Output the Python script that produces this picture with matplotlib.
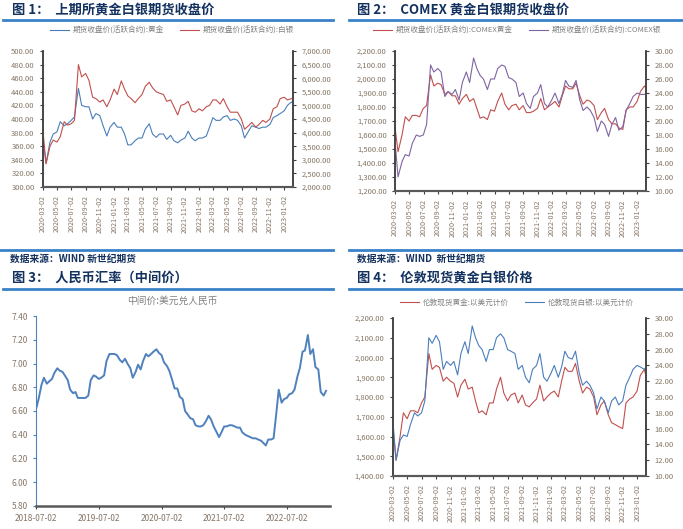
import pandas as pd
import numpy as np
import matplotlib
matplotlib.use('Agg')
import matplotlib.pyplot as plt
import matplotlib.dates as mdates
from matplotlib.ticker import FuncFormatter, MultipleLocator

plt.rcParams['font.family'] = ['Noto Sans CJK SC', 'DejaVu Sans']

W, H = 683, 529

# semi-monthly sample dates
metal_dates = pd.date_range('2020-03-01', periods=72, freq='SMS')
cny_dates = pd.date_range('2018-07-01', periods=112, freq='SMS')

# fig 1: SHFE gold (yuan/g) and silver (yuan/kg)
shfe_gold = [372, 335, 366, 378, 381, 396, 390, 393, 398, 403, 445, 420, 418, 418, 400, 408, 405, 390, 375, 388,
             395, 388, 388, 378, 362, 362, 368, 372, 372, 385, 393, 378, 373, 378, 378, 370, 376, 368, 365, 369, 372, 382, 372, 368,
             372, 372, 375, 388, 402, 398, 398, 403, 405, 398, 400, 398, 390, 372, 382, 390, 388, 386, 388, 388, 392, 402, 405, 408,
             412, 420, 425, 422]
shfe_silver = [4150, 2850, 3500, 3725, 3650, 3850, 4400, 4275, 4325, 4450, 6500, 6050, 6175, 5925, 5300, 5250, 5125, 5200, 4950, 5200,
               5600, 5400, 5900, 5600, 5350, 5250, 5100, 5250, 5400, 5700, 5850, 5650, 5500, 5450, 5400, 5150, 5200, 4950, 4650, 5000, 5050, 5150, 4800, 4750,
               4875, 4800, 4950, 5000, 5200, 5200, 5050, 5250, 4950, 4750, 4750, 4750, 4500, 4125, 4250, 4375, 4200, 4300, 4450, 4375, 4500, 4875, 4950, 5250,
               5300, 5200, 5250, 5200]

# fig 2: COMEX gold and silver
comex_gold = [1670, 1480, 1600, 1730, 1700, 1740, 1740, 1730, 1790, 1810, 2030, 1950, 1970, 1960, 1890, 1910, 1880, 1880, 1820, 1860,
              1890, 1840, 1860, 1790, 1720, 1730, 1710, 1780, 1770, 1840, 1900, 1820, 1780, 1810, 1820, 1780, 1810, 1760, 1760, 1770, 1790, 1860, 1780, 1800,
              1820, 1840, 1800, 1880, 1950, 1930, 1930, 1970, 1880, 1820, 1850, 1840, 1810, 1710, 1760, 1790, 1710, 1680, 1680, 1650, 1640, 1780, 1800, 1800,
              1840, 1910, 1950, 1920]
comex_silver = [17.5, 12.0, 14.2, 15.2, 15.0, 16.8, 18.0, 17.8, 18.0, 19.5, 28.0, 27.0, 27.5, 27.0, 23.5, 24.2, 23.8, 24.5, 23.0, 25.5,
                27.0, 25.5, 29.0, 27.5, 26.5, 26.0, 24.5, 26.0, 26.0, 27.5, 28.0, 27.8, 26.2, 26.0, 25.5, 23.5, 24.0, 22.5, 21.8, 23.5, 24.0, 25.2, 22.5, 22.0,
                23.0, 24.0, 22.5, 23.8, 25.8, 25.0, 24.8, 25.8, 23.0, 21.5, 22.0, 21.5, 20.5, 18.5, 20.0, 19.5, 17.8, 19.5, 20.5, 18.7, 19.2, 21.5, 22.5, 23.5,
                24.0, 23.8, 23.8, 24.0]

# fig 3: USD/CNY central parity
usd_cny = [6.62, 6.70, 6.82, 6.88, 6.83, 6.85, 6.87, 6.92, 6.96, 6.94, 6.93, 6.90,
           6.86, 6.78, 6.75, 6.76, 6.71, 6.71, 6.71, 6.71, 6.73, 6.86, 6.90, 6.89, 6.87, 6.88, 6.90, 7.02, 7.08, 7.08, 7.08, 7.07, 7.03, 7.01, 7.04, 7.00,
           6.96, 6.88, 6.93, 6.99, 6.95, 7.02, 7.08, 7.06, 7.08, 7.10, 7.12, 7.09, 7.07, 7.01, 6.98, 6.94, 6.86, 6.79, 6.79, 6.72, 6.70, 6.60, 6.57, 6.54,
           6.53, 6.48, 6.47, 6.47, 6.48, 6.51, 6.56, 6.53, 6.47, 6.43, 6.38, 6.42, 6.47, 6.47, 6.48, 6.48, 6.47, 6.46, 6.46, 6.42, 6.40, 6.39, 6.38, 6.37,
           6.37, 6.36, 6.35, 6.33, 6.31, 6.36, 6.36, 6.37, 6.58, 6.78, 6.67, 6.70, 6.71, 6.74, 6.75, 6.78, 6.89, 6.96, 7.10, 7.11, 7.24, 7.08, 7.12, 6.97,
           6.95, 6.76, 6.73, 6.77]

# fig 4: London spot gold and silver (USD)
ldn_gold = [1650, 1480, 1600, 1720, 1690, 1730, 1730, 1720, 1770, 1800, 2020, 1940, 1960, 1950, 1880, 1900, 1880, 1870, 1800, 1860,
            1890, 1840, 1850, 1780, 1720, 1730, 1710, 1770, 1770, 1840, 1900, 1820, 1780, 1810, 1820, 1770, 1810, 1760, 1750, 1770, 1790, 1860, 1780, 1800,
            1820, 1830, 1800, 1880, 1950, 1930, 1930, 1970, 1880, 1820, 1850, 1840, 1800, 1710, 1760, 1780, 1710, 1670, 1660, 1650, 1640, 1770, 1790, 1800,
            1830, 1910, 1940, 1870]
ldn_silver = [17.2, 12.0, 14.5, 15.2, 15.0, 16.5, 18.0, 17.6, 18.0, 19.5, 27.5, 26.8, 27.8, 27.0, 23.5, 24.5, 24.0, 24.5, 22.8, 25.5,
              27.0, 25.5, 29.0, 27.5, 26.5, 26.0, 24.5, 26.0, 26.0, 27.5, 28.0, 27.5, 26.0, 25.8, 25.5, 23.5, 24.0, 22.5, 21.8, 23.5, 24.0, 25.5, 22.5, 22.0,
              23.0, 24.0, 22.5, 23.8, 25.8, 25.0, 24.8, 25.8, 23.0, 21.5, 22.0, 21.5, 20.5, 18.5, 20.0, 19.5, 18.0, 19.5, 20.0, 19.0, 19.5, 21.5, 22.5, 23.5,
              24.0, 23.8, 23.5, 24.0]

NAVY = '#14325f'
RULE = '#3a82c8'
BLUE = '#4a7ebb'
RED = '#c0504d'
PURPLE = '#8064a2'
TXT = '#857565'
AXC = '#404040'

fig = plt.figure(figsize=(W / 100, H / 100), dpi=100)


def px_axes(l, t, r, b):
    return fig.add_axes([l / W, 1 - b / H, (r - l) / W, (b - t) / H])


def ftext(x, y, s, **kw):
    fig.text(x / W, 1 - y / H, s, va='center', **kw)


def hrule(x0, x1, y):
    fig.add_artist(plt.Line2D([x0 / W, x1 / W], [1 - y / H, 1 - y / H], color=RULE, lw=2))


money = FuncFormatter(lambda v, p: '{:,.2f}'.format(v))

# header texts and rules
ftext(12, 10, '图 1：  上期所黄金白银期货收盘价', fontsize=9.5, fontweight='bold', color=NAVY)
ftext(357, 10, '图 2：  COMEX 黄金白银期货收盘价', fontsize=9.5, fontweight='bold', color=NAVY)
hrule(3, 333, 20)
hrule(349, 683, 20)
hrule(0, 333, 250)
hrule(349, 683, 250)
ftext(10, 259, '数据来源：WIND 新世纪期货', fontsize=7, fontweight='bold', color=NAVY)
ftext(357, 259, '数据来源：WIND  新世纪期货', fontsize=7, fontweight='bold', color=NAVY)
ftext(12, 278, '图 3：  人民币汇率（中间价）', fontsize=9.5, fontweight='bold', color=NAVY)
ftext(357, 278, '图 4：  伦敦现货黄金白银价格', fontsize=9.5, fontweight='bold', color=NAVY)
hrule(3, 333, 289)
hrule(349, 683, 289)


def dual_panel(box, d, y1, y2, c1, c2, lab1, lab2, lim1, step1, lim2, step2, leg_xy):
    ax = px_axes(*box)
    ax2 = ax.twinx()
    h1, = ax.plot(d, y1, color=c1, lw=0.8, label=lab1)
    h2, = ax2.plot(d, y2, color=c2, lw=0.8, label=lab2)
    ax.set_xlim(pd.Timestamp('2020-03-02'), pd.Timestamp('2023-02-08'))
    ax.set_ylim(*lim1)
    ax2.set_ylim(*lim2)
    ax.yaxis.set_major_locator(MultipleLocator(step1))
    ax2.yaxis.set_major_locator(MultipleLocator(step2))
    ax.yaxis.set_major_formatter(money)
    ax2.yaxis.set_major_formatter(money)
    ax.xaxis.set_major_locator(mdates.MonthLocator(bymonth=[1, 3, 5, 7, 9, 11], bymonthday=2))
    ax.xaxis.set_major_formatter(mdates.DateFormatter('%Y-%m-%d'))
    for a in (ax, ax2):
        a.spines['top'].set_visible(False)
        a.spines['left'].set_color(AXC)
        a.spines['right'].set_color(AXC)
        a.spines['bottom'].set_color('#595959')
        a.spines['left'].set_linewidth(1.1)
        a.spines['right'].set_linewidth(1.1)
        a.spines['bottom'].set_linewidth(1.5)
        a.tick_params(axis='y', labelsize=5.5, labelcolor=TXT, length=2.5, width=0.8, color=AXC)
    ax.tick_params(axis='x', labelsize=5.2, labelcolor=TXT, rotation=90, length=2.5, width=0.8, color=AXC)
    ax.legend([h1, h2], [lab1, lab2], loc='center', bbox_to_anchor=(leg_xy[0] / W, 1 - leg_xy[1] / H),
              bbox_transform=fig.transFigure, ncol=2, frameon=False, fontsize=5.5, labelcolor='#808080',
              handlelength=2.4, columnspacing=2.2, handletextpad=0.5)
    return ax, ax2


dual_panel((43, 51, 293, 187), metal_dates, shfe_gold, shfe_silver, BLUE, RED,
           '期货收盘价(活跃合约):黄金', '期货收盘价(活跃合约):白银',
           (300, 500), 20, (2000, 7000), 500, (172, 31))
dual_panel((395, 51, 646, 191), metal_dates, comex_gold, comex_silver, RED, PURPLE,
           '期货收盘价(活跃合约):COMEX黄金', '期货收盘价(活跃合约):COMEX银',
           (1200, 2200), 100, (10, 30), 2, (517, 31))
dual_panel((393, 318, 646, 476), metal_dates, ldn_gold, ldn_silver, RED, BLUE,
           '伦敦现货黄金:以美元计价', '伦敦现货白银:以美元计价',
           (1400, 2200), 100, (10, 30), 2, (517, 303))

# fig 3: USD/CNY
ax3 = px_axes(36, 316, 330, 506)
ax3.plot(cny_dates, usd_cny, color='#4f81bd', lw=1.4)
ax3.set_xlim(pd.Timestamp('2018-06-30'), pd.Timestamp('2023-03-10'))
ax3.set_ylim(5.8, 7.4)
ax3.yaxis.set_major_locator(MultipleLocator(0.2))
ax3.yaxis.set_major_formatter(FuncFormatter(lambda v, p: '%.2f' % v))
ax3.xaxis.set_major_locator(mdates.YearLocator(month=7, day=2))
ax3.xaxis.set_major_formatter(mdates.DateFormatter('%Y-%m-%d'))
for s in ('top', 'right'):
    ax3.spines[s].set_visible(False)
ax3.spines['left'].set_color('#4f81bd')
ax3.spines['left'].set_linewidth(0.8)
ax3.spines['bottom'].set_color('#595959')
ax3.spines['bottom'].set_linewidth(1.8)
ax3.tick_params(axis='y', labelsize=6, labelcolor=TXT, length=2.5, width=0.8, color='#4f81bd')
ax3.tick_params(axis='x', labelsize=6, labelcolor=TXT, length=2.5, width=0.8, color=AXC)
ftext(172, 301, '中间价:美元兑人民币', fontsize=7, color='#808080', ha='center')

fig.savefig('out.png', dpi=100)
